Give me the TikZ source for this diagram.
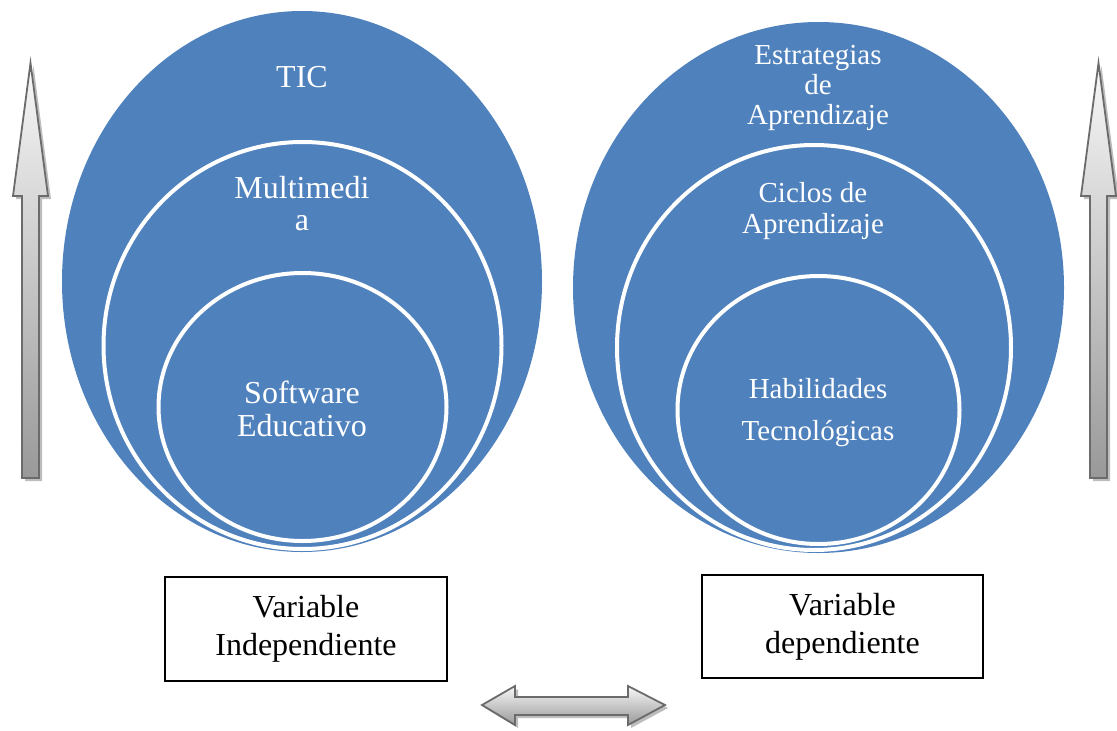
\documentclass[tikz,border=0pt]{standalone}
\usepackage{fontspec}
\setmainfont{Liberation Serif}
\usepackage{tikz}
\usetikzlibrary{arrows,shapes}
\definecolor{ticblue}{HTML}{4F81BD}
\definecolor{arrowedge}{HTML}{6B6B6B}
\definecolor{arrowshadow}{HTML}{BDBDBD}

\tikzset{
  ring/.style={fill=ticblue, draw=white, line width=4pt},
  inlabel/.style={text=white, align=center, inner sep=0pt},
  varbox/.style={draw=black, line width=1.2pt, align=center, minimum width=282pt, minimum height=104pt, font=\fontsize{32}{38}\selectfont},
  grayarrow/.style={top color=white!97!black, bottom color=gray!80, draw=arrowedge, line width=1.8pt, line join=miter},
}

\begin{document}
\begin{tikzpicture}[x=1pt, y=-1pt, every node/.style={font=\fontsize{32}{32}\selectfont}]
      \useasboundingbox (0,0) rectangle (1117,731);
      % left set: TIC > Multimedia > Software
      \fill[ticblue] (302,281.5) ellipse [x radius=240pt, y radius=270.5pt];
      \filldraw[ring] (302.5,345.5) ellipse [x radius=199pt, y radius=203.5pt];
      \filldraw[ring] (302.5,407) ellipse [x radius=144pt, y radius=134pt];
      % right set: Estrategias > Ciclos > Habilidades
      \fill[ticblue] (818.5,287.5) ellipse [x radius=245.5pt, y radius=265.5pt];
      \filldraw[ring] (814,347.5) ellipse [x radius=197pt, y radius=202.5pt];
      \filldraw[ring] (818.5,410) ellipse [x radius=141pt, y radius=134pt];

      \node[inlabel] (tic) at (302,77) {TIC};
      \node[inlabel] (multi) at (302,204) {Multimedi\\a};
      \node[inlabel, font=\fontsize{32}{33}\selectfont] (soft) at (302,409) {Software\\Educativo};
      \node[inlabel, font=\fontsize{29}{30}\selectfont] (estr) at (818,88) {Estrategias\\de\\Aprendizaje};
      \node[inlabel, font=\fontsize{29}{31}\selectfont] (ciclos) at (813,211) {Ciclos de\\Aprendizaje};
      \node[inlabel, font=\fontsize{29}{42}\selectfont] (habil) at (818,413) {Habilidades\\Tecnológicas};

      \node[varbox] (indep) at (306,629) {Variable\\Independiente};
      \node[varbox, minimum width=281pt, minimum height=103pt] (dep) at (842.5,626.5) {Variable\\dependiente};

      % vertical arrows at both sides
      \foreach \x in {30.5,1098.5}
      {
      \fill[xshift=\x pt, arrowshadow] (3,66) -- (20.5,199) -- (11.5,199) -- (11.5,481) -- (-5.5,481) -- (-5.5,199) -- (-14.5,199) -- cycle;
      \draw[xshift=\x pt, grayarrow] (0,63) -- (17.5,196) -- (8.5,196) -- (8.5,478) -- (-8.5,478) -- (-8.5,196) -- (-17.5,196) -- cycle;
      }
      % double arrow between the boxes
      \fill[arrowshadow] (485,708) -- (518,689) -- (518,700) -- (631,700) -- (631,689) -- (668,708) -- (631,728) -- (631,718) -- (518,718) -- (518,728) -- cycle;
      \draw[grayarrow] (482,705) -- (515,686) -- (515,697) -- (628,697) -- (628,686) -- (665,705) -- (628,725) -- (628,715) -- (515,715) -- (515,725) -- cycle;
\end{tikzpicture}
\end{document}
